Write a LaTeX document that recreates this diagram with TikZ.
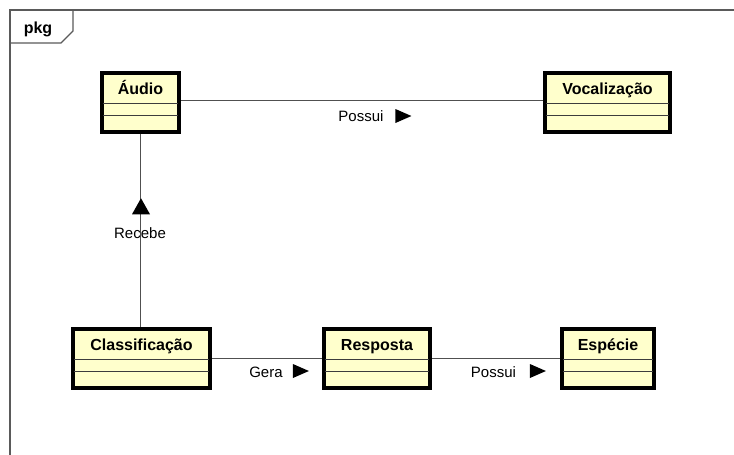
\documentclass[tikz,border=0pt]{standalone}
\usepackage{fontspec}
\setmainfont{Liberation Sans}
\usetikzlibrary{shapes.geometric}
\definecolor{classfill}{RGB}{255,255,204}
\definecolor{framecol}{RGB}{90,90,90}
\definecolor{linecol}{RGB}{80,80,80}
\definecolor{divcol}{RGB}{60,60,60}
\tikzset{
  classbox/.style={draw=black, line width=2.8pt, fill=classfill, inner sep=0pt,
    text height=21pt, text depth=37pt, minimum height=58pt,
    font=\fontsize{16}{19}\selectfont\bfseries, anchor=north},
  divider/.style={draw=divcol, line width=1.3pt},
  assoc/.style={draw=linecol, line width=1.1pt},
  asslabel/.style={inner sep=0pt, font=\fontsize{15}{18}\selectfont},
  dirtri/.style={isosceles triangle, fill=black, inner sep=0pt,
    minimum width=14pt, minimum height=16pt, isosceles triangle stretches},
  framestyle/.style={draw=framecol, line width=1.1pt}
}
\begin{document}
\begin{tikzpicture}[x=1pt,y=-1pt]
\useasboundingbox (0,0) rectangle (734,455);
\fill[white] (0,0) rectangle (734,455);
% frame
\draw[framestyle] (10,470) -- (10,10) -- (750,10);
\draw[framestyle] (10,43) -- (61,43) -- (73,31) -- (73,10);
\node[anchor=base, inner sep=0pt, font=\fontsize{16}{19}\selectfont\bfseries] (pkg) at (38,33) {pkg};
% class boxes
\node[classbox, minimum width=75pt] (audio) at (140.5,72) {Áudio};
\node[classbox, minimum width=123pt] (voc) at (607.5,72) {Vocalização};
\node[classbox, minimum width=135pt] (clas) at (141.5,328) {Classificação};
\node[classbox, minimum width=104pt] (resp) at (377,328) {Resposta};
\node[classbox, minimum width=90pt] (esp) at (608,328) {Espécie};
% connectors
\draw[assoc] ([yshift=1.5pt]audio.east) -- ([yshift=1.5pt]audio.east -| voc.west);
\draw[assoc] (audio.south) -- (audio.south |- clas.north);
\draw[assoc] (clas.east) -- (resp.west);
\draw[assoc] (resp.east) -- (esp.west);
% redraw box outlines and compartments over connectors
\foreach \n in {audio,voc,clas,resp,esp}{
  \draw[draw=black, line width=2.8pt] (\n.north west) rectangle (\n.south east);
  \draw[divider] ([yshift=-31.5pt,xshift=1pt]\n.north west) -- ([yshift=-31.5pt,xshift=-1pt]\n.north east);
  \draw[divider] ([yshift=-43.5pt,xshift=1pt]\n.north west) -- ([yshift=-43.5pt,xshift=-1pt]\n.north east);
}
% labels
\node[asslabel] (l1) at (361,116) {Possui};
\node[dirtri] (t1) at (400,116) {};
\node[asslabel] (l2) at (140,233) {Recebe};
\node[dirtri, shape border rotate=90, minimum width=18pt, minimum height=16pt] (t2) at (141,209) {};
\node[asslabel] (l3) at (266,372) {Gera};
\node[dirtri] (t3) at (297.5,371) {};
\node[asslabel] (l4) at (493.5,372) {Possui};
\node[dirtri] (t4) at (534.5,371) {};
\end{tikzpicture}
\end{document}
